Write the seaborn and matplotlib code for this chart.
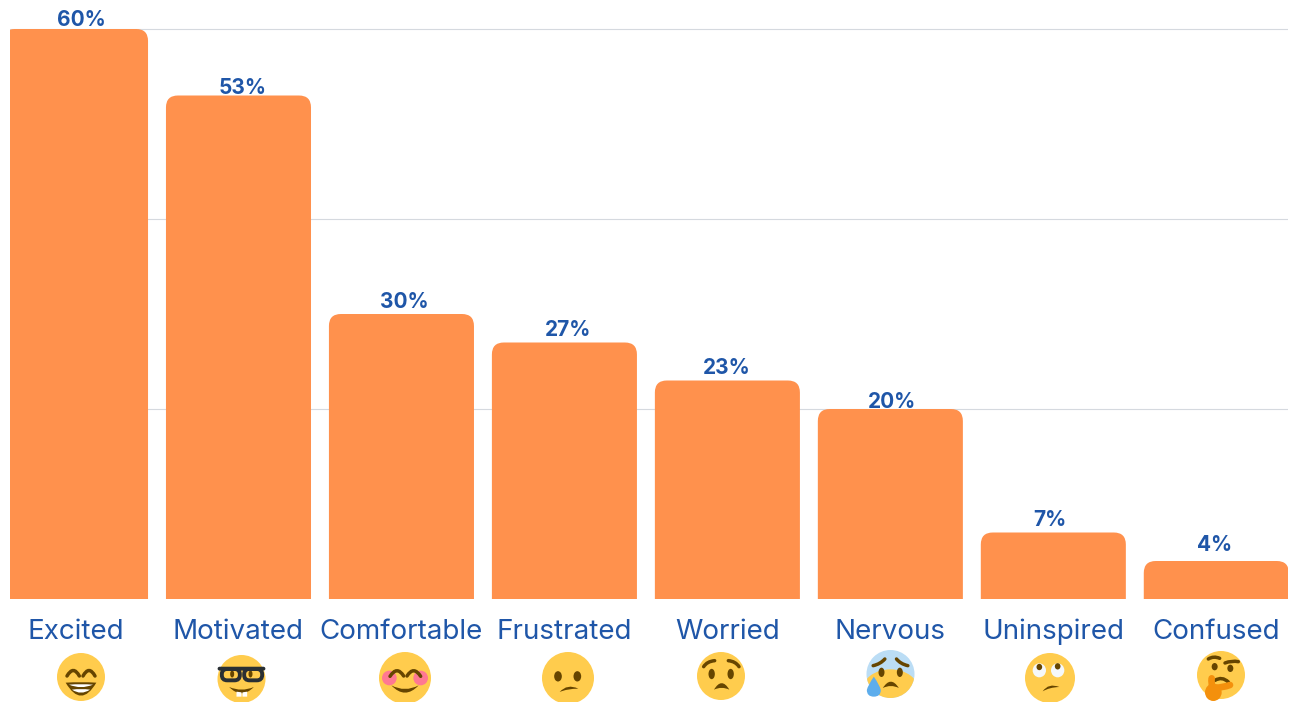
import seaborn as sns
import matplotlib.pyplot as plt
from matplotlib.path import Path
from matplotlib.patches import PathPatch, Ellipse, Polygon, FancyBboxPatch
from matplotlib.transforms import Affine2D

# Data
emotions = ["Excited", "Motivated", "Comfortable", "Frustrated",
            "Worried", "Nervous", "Uninspired", "Confused"]
shares = [60, 53, 30, 27, 23, 20, 7, 4]
grid_ticks = [20, 40, 60]

# nudges of the value labels (px) and emoji centres (px)
label_dx = [5.5, 4.5, 2.5, 3.5, -1, 2, -3, -1.5]
label_dy = [-1, -2, 2, 2, 2, -3, 2, 6]
emoji_pos = [(81, 677), (241.5, 679), (405, 678), (568, 678),
             (721, 676), (890.5, 674), (1050, 678), (1221, 675)]

ORANGE = "#FF914D"
BLUE = "#1F56A8"
YEL = "#FFCC4D"
BRN = "#664500"
PINK = "#FF7892"
DARK = "#292F33"
W, H = 1291, 702

sns.set_theme(style="white")
plt.rcParams["font.family"] = ["Inter", "DejaVu Sans"]

fig = plt.figure(figsize=(W / 100, H / 100), dpi=100)
ax = fig.add_axes([10 / W, (H - 599) / H, 1278 / W, 589 / H])

sns.barplot(x=emotions, y=shares, color=ORANGE, saturation=1, width=0.89, ax=ax)
ax.set_xlim(-0.402, 7.44)
ax.set_ylim(0, 62)
ax.set_yticks(grid_ticks)
ax.set_yticklabels([])
ax.set_xlabel("")
ax.set_ylabel("")
ax.yaxis.grid(True, color="#D5D9DF", linewidth=0.8)
ax.set_axisbelow(True)
sns.despine(ax=ax, left=True, bottom=True)
ax.tick_params(axis="x", length=0, pad=29, labelsize=20, labelcolor=BLUE)
ax.tick_params(axis="y", length=0)
for lbl in ax.get_xticklabels():
    lbl.set_verticalalignment("baseline")

# round the top corners of the bars
x_px = ax.transData.transform((1, 0))[0] - ax.transData.transform((0, 0))[0]
y_px = ax.transData.transform((0, 1))[1] - ax.transData.transform((0, 0))[1]
rx, ry = 12 / x_px, 12 / y_px
for bar, val, dx, dy in zip(list(ax.patches), shares, label_dx, label_dy):
    x0, x1 = bar.get_x(), bar.get_x() + bar.get_width()
    bar.set_visible(False)
    verts = [(x0, 0), (x0, val - ry), (x0, val), (x0 + rx, val), (x1 - rx, val),
             (x1, val), (x1, val - ry), (x1, 0), (x0, 0)]
    codes = [Path.MOVETO, Path.LINETO, Path.CURVE3, Path.CURVE3, Path.LINETO,
             Path.CURVE3, Path.CURVE3, Path.LINETO, Path.CLOSEPOLY]
    ax.add_patch(PathPatch(Path(verts, codes), fc=ORANGE, ec="none", zorder=3))
    ax.annotate(f"{val}%", (x0 + bar.get_width() / 2, val), xytext=(dx * 0.72, dy * 0.72),
                textcoords="offset points", ha="center", va="bottom",
                fontsize=15, fontweight="bold", color=BLUE, zorder=4)

# overlay in pixels for the emoji row
ov = fig.add_axes([0, 0, 1, 1], facecolor="none")
ov.set_xlim(0, W)
ov.set_ylim(H, 0)
ov.axis("off")


def place(c):
    # feature coordinates are in 1/3 px relative to the emoji centre
    return Affine2D().scale(1 / 3).translate(*c) + ov.transData


def add(c, patch):
    patch.set_transform(place(c))
    ov.add_patch(patch)
    return patch


def disc(c, x, y, w, h, color, **kw):
    return add(c, Ellipse((x, y), w, h, fc=color, ec="none", **kw))


def stroke(c, p0, ctrl, p1, lw=2.5, color=BRN):
    path = Path([p0, ctrl, p1], [Path.MOVETO, Path.CURVE3, Path.CURVE3])
    return add(c, PathPatch(path, fc="none", ec=color, lw=lw, capstyle="round"))


def crescent(c, p0, c_top, p1, c_bot, color=BRN):
    path = Path([p0, c_top, p1, c_bot, p0, p0],
                [Path.MOVETO, Path.CURVE3, Path.CURVE3, Path.CURVE3, Path.CURVE3,
                 Path.CLOSEPOLY])
    return add(c, PathPatch(path, fc=color, ec="none"))


def excited(c):
    disc(c, 0, 0, 144, 144, YEL)
    stroke(c, (-42, -3), (-23, -36), (-5, -3))
    stroke(c, (6, -3), (24, -36), (42, -3))
    crescent(c, (-46, 17), (0, 14), (46, 17), (0, 95))
    crescent(c, (-36, 23), (0, 20), (36, 23), (0, 38), "white")
    crescent(c, (-27, 38), (0, 34), (27, 38), (0, 56), "white")


def motivated(c):
    disc(c, 0, 0, 144, 144, YEL)
    disc(c, -28, -15, 12, 21, BRN)
    disc(c, 27, -15, 12, 21, BRN)
    for x in (-32, 35):
        add(c, FancyBboxPatch((x - 25, -28), 50, 30, boxstyle="round,pad=2,rounding_size=16",
                              fc="none", ec=DARK, lw=2.8))
    stroke(c, (-66, -31), (0, -31), (66, -31), lw=2.8, color=DARK)
    crescent(c, (-37, 24), (0, 40), (37, 24), (0, 62))
    add(c, Polygon([(-15, 38), (0, 40), (0, 53), (-15, 53)], fc="white", ec="none"))
    add(c, Polygon([(3, 40), (17, 38), (17, 53), (3, 53)], fc="white", ec="none"))


def comfortable(c):
    disc(c, 0, 0, 156, 156, YEL)
    disc(c, -47, 0, 44, 44, PINK)
    disc(c, 47, 0, 44, 44, PINK)
    stroke(c, (-45, -5), (-24, -38), (-4, -6))
    stroke(c, (6, -6), (26, -38), (47, -5))
    crescent(c, (-41, 22), (0, 44), (41, 22), (0, 66))


def frustrated(c):
    disc(c, 0, 0, 156, 156, YEL)
    disc(c, -30, -5, 23, 31, BRN)
    disc(c, 28, -5, 23, 31, BRN)
    crescent(c, (-25, 42), (-2, 16), (31, 32), (-2, 32))


def worried(c):
    disc(c, 0, 0, 144, 144, YEL)
    disc(c, -28, -6, 19, 31, BRN)
    disc(c, 29, -6, 19, 31, BRN)
    stroke(c, (-52, -28), (-42, -44), (-19, -46))
    stroke(c, (22, -46), (44, -44), (54, -28))
    crescent(c, (-21, 41), (2, 2), (25, 41), (2, 30))


def nervous(c):
    face = disc(c, 0, 0, 144, 144, "#BBDDF5")
    lower = disc(c, 0, 50, 170, 128, YEL)
    lower.set_clip_path(face)
    disc(c, -27, -5, 18, 28, BRN)
    disc(c, 28, -5, 18, 28, BRN)
    stroke(c, (-52, -25), (-30, -30), (-17, -45))
    stroke(c, (18, -45), (30, -30), (52, -25))
    crescent(c, (-23, 42), (1, 4), (25, 42), (1, 30))
    path = Path([(-50, 8), (-68, 34), (-71, 48), (-71, 68), (-50, 68), (-29, 68), (-29, 48),
                 (-32, 34), (-50, 8)],
                [Path.MOVETO, Path.CURVE3, Path.CURVE3, Path.CURVE3, Path.CURVE3,
                 Path.CURVE3, Path.CURVE3, Path.CURVE3, Path.CURVE3])
    add(c, PathPatch(path, fc="#5DADEC", ec="none"))


def uninspired(c):
    disc(c, 0, 0, 150, 150, YEL)
    disc(c, -32, -23, 40, 42, "#F5F8FA")
    disc(c, 23, -23, 40, 42, "#F5F8FA")
    disc(c, -32, -33, 17, 19, BRN)
    disc(c, 23, -35, 17, 19, BRN)
    crescent(c, (-22, 40), (-4, 14), (28, 27), (-2, 28))


def confused(c):
    disc(c, 0, 0, 144, 144, YEL)
    disc(c, -19, -25, 18, 22, BRN)
    disc(c, 28, -20, 18, 22, BRN)
    stroke(c, (-38, -48), (-22, -58), (-4, -50))
    stroke(c, (12, -36), (32, -44), (52, -40))
    stroke(c, (-18, 16), (3, 3), (22, 21))
    stroke(c, (-28, 10), (-30, 25), (-25, 40), lw=4.8, color="#F4900C")
    stroke(c, (-15, 38), (5, 38), (27, 30), lw=4.8, color="#F4900C")
    disc(c, -23, 52, 50, 52, "#F4900C")


for draw, pos in zip([excited, motivated, comfortable, frustrated,
                      worried, nervous, uninspired, confused], emoji_pos):
    draw(pos)

fig.savefig("out.png", dpi=100)
